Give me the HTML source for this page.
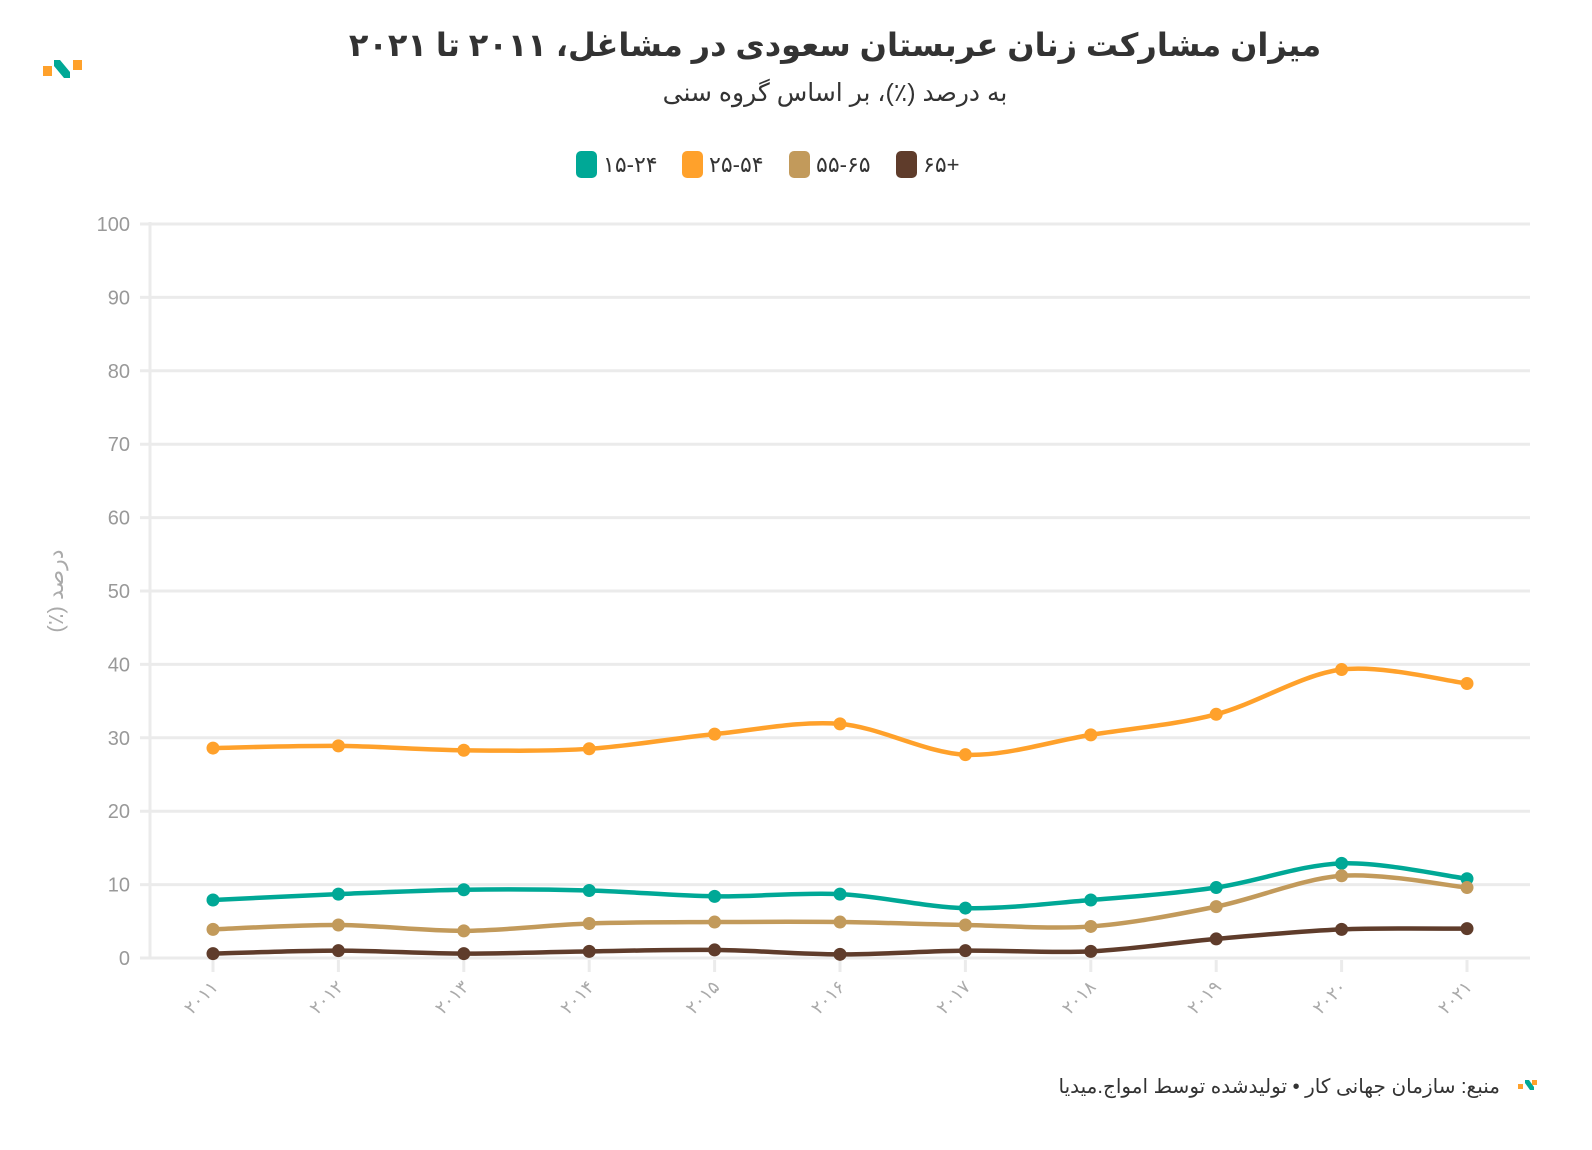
<!DOCTYPE html>
<html><head><meta charset="utf-8"><style>
body{margin:0;background:#fff;width:1592px;height:1150px;overflow:hidden;font-family:"Liberation Sans","DejaVu Sans",sans-serif;position:relative}
.rtl{position:absolute;direction:rtl;white-space:nowrap}
</style></head><body>
<svg id="s" width="1592" height="1150" xmlns="http://www.w3.org/2000/svg" font-family="Liberation Sans, DejaVu Sans, sans-serif" style="position:absolute;left:0;top:0">
<rect x="43" y="66" width="9" height="10" fill="#ffa12b"/>
<path d="M54 60 L60 60 L70 72 L70 78 L64 78 L54 66Z" fill="#00a896"/>
<rect x="73" y="60" width="9" height="10" fill="#ffa12b"/>
<g font-size="22" fill="#333">
<rect x="576" y="151" width="21" height="27" rx="5" fill="#00a896"/><text x="603" y="172">۱۵-۲۴</text>
<rect x="682" y="151" width="21" height="27" rx="5" fill="#ffa12b"/><text x="709" y="172">۲۵-۵۴</text>
<rect x="789" y="151" width="21" height="27" rx="5" fill="#c29a5b"/><text x="816" y="172">۵۵-۶۵</text>
<rect x="896" y="151" width="21" height="27" rx="5" fill="#5f3c2b"/><text x="923" y="172">۶۵+</text>
</g>
<g id="grid"></g>
<g id="series"></g>
<rect x="1518" y="1084" width="5" height="5" fill="#ffa12b"/>
<path d="M1525 1080 L1529 1080 L1534 1087 L1534 1090 L1530 1090 L1525 1083Z" fill="#00a896"/>
<rect x="1532" y="1080" width="5" height="5" fill="#ffa12b"/>
</svg>
<div class="rtl" style="left:0;width:1670px;text-align:center;top:26px;font-size:32px;font-weight:bold;color:#333">میزان مشارکت زنان عربستان سعودی در مشاغل، ۲۰۱۱ تا ۲۰۲۱</div>
<div class="rtl" style="left:0;width:1670px;text-align:center;top:78px;font-size:25px;color:#333">به درصد (٪)، بر اساس گروه سنی</div>
<div class="rtl" style="right:92px;top:1074px;font-size:20px;color:#333">منبع: سازمان جهانی کار • تولیدشده توسط امواج.میدیا</div>
<div class="rtl" style="left:-44px;width:200px;text-align:center;top:578px;font-size:22px;color:#aaa;transform:rotate(-90deg)">درصد (٪)</div>
<script>
const NS="http://www.w3.org/2000/svg";
const g=document.getElementById('grid'),se=document.getElementById('series');
function el(p,t,a,txt){const e=document.createElementNS(NS,t);for(const k in a)e.setAttribute(k,a[k]);if(txt!==undefined)e.textContent=txt;p.appendChild(e);return e;}
const Y=v=>958-v*7.34, X=i=>213+i*125.4;
for(let v=0;v<=100;v+=10){el(g,'line',{x1:140,x2:1530,y1:Y(v),y2:Y(v),stroke:'#ebebeb','stroke-width':3});
el(g,'text',{x:130,y:Y(v)+7,'text-anchor':'end','font-size':20,fill:'#999'},v);}
el(g,'line',{x1:150,x2:150,y1:222,y2:958,stroke:'#ebebeb','stroke-width':3});
const fa=n=>String(n).replace(/\d/g,d=>'۰۱۲۳۴۵۶۷۸۹'[d]);
for(let i=0;i<11;i++){el(g,'line',{x1:X(i),x2:X(i),y1:960,y2:972,stroke:'#ebebeb','stroke-width':3});
el(g,'text',{transform:`translate(${X(i)+6},${988}) rotate(-45)`,'text-anchor':'end','font-size':18,fill:'#aaa'},fa(2011+i));}
const data=[
['#ffa12b',[28.6,28.9,28.3,28.5,30.5,31.9,27.7,30.4,33.2,39.3,37.4]],
['#00a896',[7.9,8.7,9.3,9.2,8.4,8.7,6.8,7.9,9.6,12.9,10.8]],
['#c29a5b',[3.9,4.5,3.7,4.7,4.9,4.9,4.5,4.3,7.0,11.2,9.6]],
['#5f3c2b',[0.6,1.0,0.6,0.9,1.1,0.5,1.0,0.9,2.6,3.9,4.0]]];
for(const [c,d] of data){const p=d.map((v,i)=>[X(i),Y(v)]);
let str=`M${p[0][0]},${p[0][1]}`;
for(let i=0;i<p.length-1;i++){const p0=p[i-1]||p[i],p1=p[i],p2=p[i+1],p3=p[i+2]||p2;
const t=0.16;str+=` C${p1[0]+(p2[0]-p0[0])*t},${p1[1]+(p2[1]-p0[1])*t} ${p2[0]-(p3[0]-p1[0])*t},${p2[1]-(p3[1]-p1[1])*t} ${p2[0]},${p2[1]}`;}
el(se,'path',{d:str,fill:'none',stroke:c,'stroke-width':4.5});
p.forEach(q=>el(se,'circle',{cx:q[0],cy:q[1],r:6.5,fill:c}));}
</script>
</body></html>
